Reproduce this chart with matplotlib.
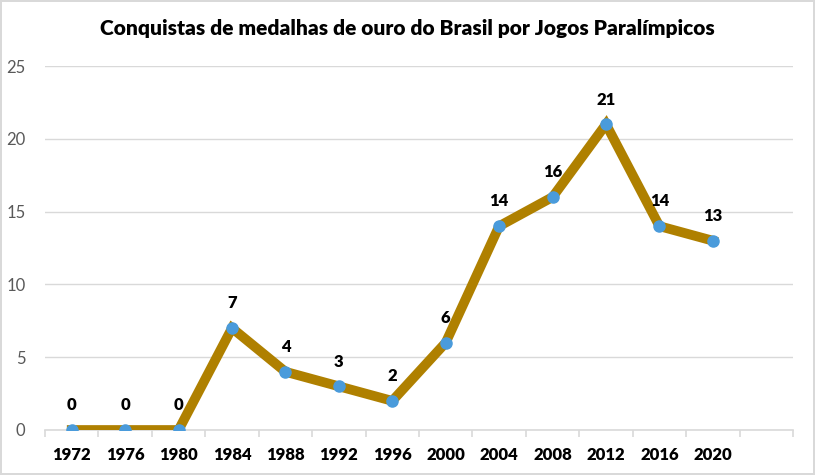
import matplotlib.pyplot as plt
from matplotlib.ticker import MultipleLocator

# data
anos = ["1972", "1976", "1980", "1984", "1988", "1992", "1996",
        "2000", "2004", "2008", "2012", "2016", "2020"]
ouros = [0, 0, 0, 7, 4, 3, 2, 6, 14, 16, 21, 14, 13]

plt.rcParams['font.family'] = ['Lato', 'DejaVu Sans']

fig = plt.figure(figsize=(8.15, 4.75), dpi=100)
fig.patch.set_edgecolor('#D9D9D9')
fig.patch.set_linewidth(1.5)
ax = fig.add_axes([45 / 815, 1 - 430 / 475, 748 / 815, 364 / 475])

x = list(range(len(anos)))
ax.plot(x, ouros, color='#AF8000', linewidth=7, solid_joinstyle='miter',
        marker='o', markersize=8, markerfacecolor='#4A9BDB',
        markeredgecolor='#4A9BDB', zorder=3)

for xi, v in zip(x, ouros):
    ax.annotate(str(v), (xi, v), xytext=(0, 12), textcoords='offset points',
                ha='center', va='bottom', fontsize=12, fontweight='heavy',
                color='black')

ax.set_xlim(-0.5, len(anos) + 0.5)
ax.set_ylim(0, 25)
ax.yaxis.set_major_locator(MultipleLocator(5))
ax.set_xticks(x)
ax.set_xticklabels(anos, fontsize=12, fontweight='heavy')
ax.set_xticks([i - 0.5 for i in range(len(anos) + 2)], minor=True)
ax.tick_params(axis='x', which='major', length=0, pad=12)
ax.tick_params(axis='x', which='minor', length=5, color='#D9D9D9', width=1.2)
ax.tick_params(axis='y', length=0, labelsize=12, labelcolor='#595959', pad=14)

ax.grid(axis='y', color='#D9D9D9', linewidth=1)
ax.set_axisbelow(True)
for s in ['left', 'right', 'top']:
    ax.spines[s].set_visible(False)
ax.spines['bottom'].set_color('#D9D9D9')
ax.spines['bottom'].set_linewidth(1.2)

fig.text(0.5, 1 - 28 / 475, "Conquistas de medalhas de ouro do Brasil por Jogos Paralímpicos",
         ha='center', va='center', fontsize=15, fontweight='heavy')

fig.savefig('out.png', dpi=100, edgecolor=fig.get_edgecolor())
